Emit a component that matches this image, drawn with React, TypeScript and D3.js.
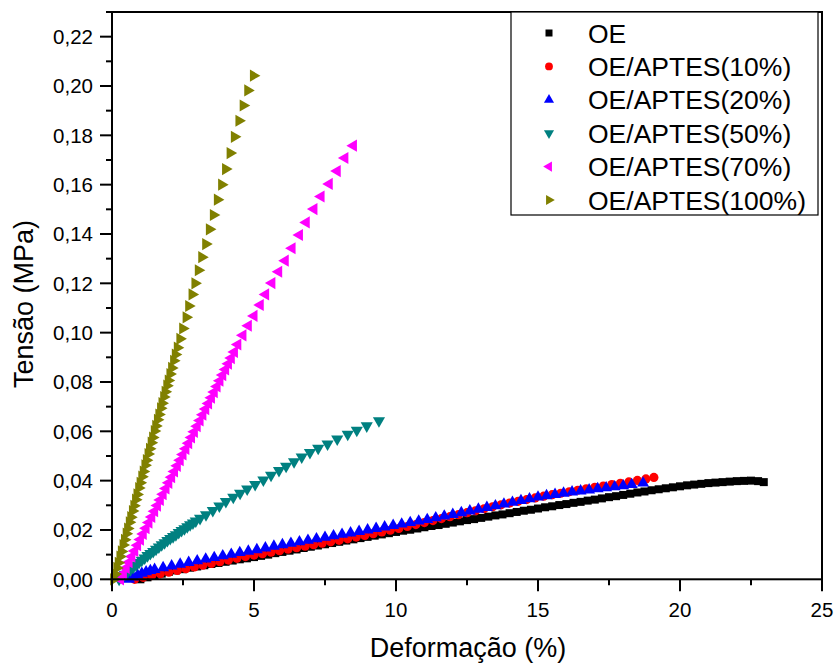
import React from "react";
import * as d3 from "d3";

const seriesNames = ["OE", "OE/APTES(10%)", "OE/APTES(20%)", "OE/APTES(50%)", "OE/APTES(70%)", "OE/APTES(100%)"];

const oe: [number, number][] = [
  [1.0, 0.0], [1.25, 0.0008], [1.5, 0.0016], [1.75, 0.0023], [2.0, 0.003], [2.25, 0.0036], [2.5, 0.0041], [2.75, 0.0047],
  [3.0, 0.0052], [3.25, 0.0057], [3.5, 0.0062], [3.75, 0.0066], [4.0, 0.0071], [4.25, 0.0076], [4.5, 0.0081], [4.75, 0.0085],
  [5.0, 0.009], [5.25, 0.0095], [5.5, 0.01], [5.75, 0.0106], [6.0, 0.0111], [6.25, 0.0116], [6.5, 0.0121], [6.75, 0.0127],
  [7.0, 0.0132], [7.25, 0.0137], [7.5, 0.0142], [7.75, 0.0147], [8.0, 0.0152], [8.25, 0.0157], [8.5, 0.0162], [8.75, 0.0167],
  [9.0, 0.0172], [9.25, 0.0177], [9.5, 0.0182], [9.75, 0.0187], [10.0, 0.0192], [10.25, 0.0197], [10.5, 0.0201], [10.75, 0.0206],
  [11.0, 0.0211], [11.25, 0.0216], [11.5, 0.022], [11.75, 0.0225], [12.0, 0.023], [12.25, 0.0235], [12.5, 0.024], [12.75, 0.0244],
  [13.0, 0.0249], [13.25, 0.0254], [13.5, 0.0259], [13.75, 0.0263], [14.0, 0.0268], [14.25, 0.0273], [14.5, 0.0278], [14.75, 0.0282],
  [15.0, 0.0287], [15.25, 0.0292], [15.5, 0.0296], [15.75, 0.0301], [16.0, 0.0305], [16.25, 0.031], [16.5, 0.0314], [16.75, 0.0319],
  [17.0, 0.0323], [17.25, 0.0328], [17.5, 0.0333], [17.75, 0.0337], [18.0, 0.0342], [18.25, 0.0347], [18.5, 0.0352], [18.75, 0.0356],
  [19.0, 0.0361], [19.25, 0.0365], [19.5, 0.0369], [19.75, 0.0373], [20.0, 0.0377], [20.25, 0.0381], [20.5, 0.0384], [20.75, 0.0387],
  [21.0, 0.039], [21.25, 0.0392], [21.5, 0.0394], [21.75, 0.0396], [22.0, 0.0398], [22.25, 0.0399], [22.5, 0.04], [22.75, 0.0398],
  [22.95, 0.0394],
];

const aptes10: [number, number][] = [
  [0.8, 0.0], [1.1, 0.0008], [1.4, 0.0015], [1.7, 0.0022], [2.0, 0.0029], [2.3, 0.0036], [2.6, 0.0043], [2.9, 0.005],
  [3.2, 0.0057], [3.5, 0.0064], [3.8, 0.0071], [4.1, 0.0078], [4.4, 0.0085], [4.7, 0.0092], [5.0, 0.0098], [5.3, 0.0104],
  [5.6, 0.011], [5.9, 0.0116], [6.2, 0.0122], [6.5, 0.0128], [6.8, 0.0134], [7.1, 0.014], [7.4, 0.0146], [7.7, 0.0152],
  [8.0, 0.0158], [8.3, 0.0164], [8.6, 0.0171], [8.9, 0.0178], [9.2, 0.0185], [9.5, 0.0192], [9.8, 0.0199], [10.1, 0.0206],
  [10.4, 0.0214], [10.7, 0.0222], [11.0, 0.023], [11.3, 0.0238], [11.6, 0.0246], [11.9, 0.0254], [12.2, 0.0262], [12.5, 0.027],
  [12.8, 0.0278], [13.1, 0.0286], [13.4, 0.0294], [13.7, 0.0302], [14.0, 0.0309], [14.3, 0.0316], [14.6, 0.0323], [14.9, 0.033],
  [15.2, 0.0337], [15.5, 0.0343], [15.8, 0.0349], [16.1, 0.0355], [16.4, 0.0361], [16.7, 0.0367], [17.0, 0.0373], [17.3, 0.0378],
  [17.6, 0.0384], [17.9, 0.0389], [18.2, 0.0395], [18.5, 0.0401], [18.8, 0.0407], [19.08, 0.0413],
];

const aptes20: [number, number][] = [
  [0.6, 0.0], [0.75, 0.0009], [0.9, 0.0017], [1.05, 0.0024], [1.2, 0.003], [1.35, 0.0035], [1.5, 0.004], [1.8, 0.0047], [2.1, 0.0054], [2.4, 0.0061], [2.7, 0.0068],
  [3.0, 0.0075], [3.3, 0.0082], [3.6, 0.0088], [3.9, 0.0095], [4.2, 0.0101], [4.5, 0.0108], [4.8, 0.0114], [5.1, 0.012],
  [5.4, 0.0127], [5.7, 0.0134], [6.0, 0.014], [6.3, 0.0146], [6.6, 0.0152], [6.9, 0.0158], [7.2, 0.0164], [7.5, 0.017],
  [7.8, 0.0176], [8.1, 0.0182], [8.4, 0.0188], [8.7, 0.0194], [9.0, 0.02], [9.3, 0.0206], [9.6, 0.0212], [9.9, 0.0218],
  [10.2, 0.0224], [10.5, 0.023], [10.8, 0.0236], [11.1, 0.0242], [11.4, 0.0249], [11.7, 0.0256], [12.0, 0.0263], [12.3, 0.027],
  [12.6, 0.0277], [12.9, 0.0284], [13.2, 0.0291], [13.5, 0.0298], [13.8, 0.0305], [14.1, 0.0312], [14.4, 0.0319], [14.7, 0.0326],
  [15.0, 0.0333], [15.3, 0.0339], [15.6, 0.0344], [15.9, 0.0349], [16.2, 0.0354], [16.5, 0.0358], [16.8, 0.0362], [17.1, 0.0367],
  [17.4, 0.0371], [17.7, 0.0375], [18.0, 0.0379], [18.3, 0.0384], [18.7, 0.039],
];

const aptes50: [number, number][] = [
  [0.25, 0.0], [0.35, 0.001], [0.45, 0.002], [0.55, 0.003], [0.65, 0.0039], [0.75, 0.0049], [0.85, 0.0058], [0.95, 0.0068],
  [1.05, 0.0077], [1.15, 0.0086], [1.25, 0.0096], [1.35, 0.0105], [1.45, 0.0113], [1.55, 0.0122], [1.65, 0.0131], [1.75, 0.014],
  [1.85, 0.0148], [1.95, 0.0157], [2.05, 0.0165], [2.15, 0.0173], [2.25, 0.0181], [2.35, 0.019], [2.45, 0.0198], [2.55, 0.0205],
  [2.65, 0.0213], [2.75, 0.0221], [2.85, 0.0228], [2.95, 0.0236], [3.1, 0.0247], [3.31, 0.0262], [3.55, 0.0279], [3.78, 0.0297],
  [4.01, 0.0315], [4.27, 0.0333], [4.51, 0.0349], [4.76, 0.0366], [5.04, 0.0384], [5.33, 0.0403], [5.6, 0.0422], [5.88, 0.0441],
  [6.13, 0.0458], [6.41, 0.0477], [6.68, 0.0496], [6.97, 0.0514], [7.26, 0.0531], [7.59, 0.0549], [7.93, 0.0569], [8.3, 0.0588],
  [8.62, 0.0604], [8.97, 0.0622], [9.4, 0.0643],
];

const aptes70: [number, number][] = [
  [0.3, 0.0], [0.4, 0.0023], [0.5, 0.0046], [0.6, 0.0069], [0.7, 0.0092], [0.8, 0.0115], [0.9, 0.0138], [1.0, 0.0161],
  [1.1, 0.0184], [1.2, 0.0207], [1.3, 0.023], [1.4, 0.0253], [1.5, 0.0276], [1.6, 0.0299], [1.7, 0.0322], [1.8, 0.0345],
  [1.9, 0.0368], [2.0, 0.0391], [2.1, 0.0414], [2.2, 0.0437], [2.3, 0.046], [2.4, 0.0483], [2.5, 0.0506], [2.6, 0.0529],
  [2.7, 0.0552], [2.8, 0.0575], [2.9, 0.0598], [3.0, 0.0621], [3.1, 0.0644], [3.2, 0.0667], [3.3, 0.069], [3.4, 0.0713],
  [3.5, 0.0736], [3.6, 0.0759], [3.7, 0.0782], [3.8, 0.0805], [3.9, 0.0828], [4.0, 0.0851], [4.1, 0.0874], [4.2, 0.0897],
  [4.31, 0.0922], [4.43, 0.0952], [4.61, 0.0989], [4.8, 0.1028], [5.0, 0.1068], [5.22, 0.1112], [5.41, 0.1155], [5.63, 0.1201],
  [5.87, 0.1247], [6.1, 0.1292], [6.34, 0.1342], [6.6, 0.1396], [6.84, 0.1447], [7.11, 0.1501], [7.36, 0.1552], [7.65, 0.1603],
  [7.93, 0.1655], [8.2, 0.1708], [8.5, 0.1758],
];

const aptes100: [number, number][] = [
  [0.06, 0.0], [0.11, 0.0021], [0.17, 0.0046], [0.22, 0.0067], [0.28, 0.0092], [0.33, 0.0113], [0.39, 0.0139], [0.44, 0.016],
  [0.5, 0.0185], [0.55, 0.0206], [0.61, 0.0231], [0.66, 0.0252], [0.72, 0.0277], [0.77, 0.0298], [0.83, 0.0323], [0.88, 0.0344],
  [0.94, 0.037], [0.99, 0.0391], [1.05, 0.0416], [1.1, 0.0437], [1.16, 0.0462], [1.21, 0.0483], [1.27, 0.0508], [1.32, 0.0529],
  [1.38, 0.0554], [1.43, 0.0575], [1.49, 0.0601], [1.54, 0.0622], [1.6, 0.0647], [1.65, 0.0668], [1.71, 0.0693], [1.76, 0.0714],
  [1.82, 0.0739], [1.87, 0.076], [1.93, 0.0785], [1.98, 0.0806], [2.04, 0.0832], [2.1, 0.0857], [2.17, 0.0886], [2.23, 0.0911],
  [2.3, 0.0939], [2.39, 0.0975], [2.49, 0.1017], [2.61, 0.1062], [2.7, 0.1108], [2.82, 0.1155], [2.92, 0.12], [3.04, 0.1253],
  [3.16, 0.1306], [3.3, 0.1359], [3.43, 0.1419], [3.57, 0.1477], [3.71, 0.1539], [3.86, 0.16], [4.0, 0.1663], [4.16, 0.1728],
  [4.31, 0.1794], [4.47, 0.1859], [4.62, 0.1921], [4.78, 0.1982], [4.98, 0.2042],
];

const xTicks = [0, 5, 10, 15, 20, 25];
const yTicks = [0, 0.02, 0.04, 0.06, 0.08, 0.1, 0.12, 0.14, 0.16, 0.18, 0.2, 0.22];
const xTitle = "Deformação (%)";
const yTitle = "Tensão (MPa)";

const colors = ["#000000", "#FF0000", "#0000FF", "#008080", "#FF00FF", "#808000"];

const W = 837, H = 664;
const left = 112, right = 822, top = 12, bottom = 579.3;
const FONT = "'Liberation Sans', Arial, Helvetica, sans-serif";

export default function App() {
  const x = d3.scaleLinear().domain([0, 25]).range([left, right]);
  const y = d3.scaleLinear().domain([0, 0.23]).range([bottom, top]);

  const data = [oe, aptes10, aptes20, aptes50, aptes70, aptes100];
  const plotSym = [
    { type: d3.symbolSquare, size: 64, rot: 0 },
    { type: d3.symbolCircle, size: 66, rot: 0 },
    { type: d3.symbolTriangle, size: 62, rot: 0 },
    { type: d3.symbolTriangle, size: 64, rot: 180 },
    { type: d3.symbolTriangle, size: 64, rot: -90 },
    { type: d3.symbolTriangle, size: 64, rot: 90 },
  ];
  const legSym = [
    { type: d3.symbolSquare, size: 49, rot: 0 },
    { type: d3.symbolCircle, size: 48, rot: 0 },
    { type: d3.symbolTriangle, size: 44, rot: 0 },
    { type: d3.symbolTriangle, size: 44, rot: 180 },
    { type: d3.symbolTriangle, size: 44, rot: -90 },
    { type: d3.symbolTriangle, size: 44, rot: 90 },
  ];

  const xMinor = [2.5, 7.5, 12.5, 17.5, 22.5];
  const yMinor = [0.01, 0.03, 0.05, 0.07, 0.09, 0.11, 0.13, 0.15, 0.17, 0.19, 0.21, 0.23];
  const fmtY = (v: number) => v.toFixed(2).replace(".", ",");

  return (
    <svg width={W} height={H} style={{ position: "absolute", left: 0, top: 0, background: "#fff" }} fontFamily={FONT}>
      <rect x={0} y={0} width={W} height={H} fill="#fff" />
      {data.map((pts, i) => {
        const p = d3.symbol().type(plotSym[i].type).size(plotSym[i].size)()!;
        return (
          <g key={i} fill={colors[i]}>
            {pts.map((d, j) => (
              <path key={j} d={p} transform={`translate(${x(d[0])},${y(d[1])}) rotate(${plotSym[i].rot})`} />
            ))}
          </g>
        );
      })}
      <rect x={left} y={top} width={right - left} height={bottom - top} fill="none" stroke="#000" strokeWidth={2} />
      {xTicks.map((v) => (
        <g key={"xt" + v}>
          <line x1={x(v)} x2={x(v)} y1={bottom} y2={bottom + 12} stroke="#000" strokeWidth={2} />
          <text x={x(v)} y={bottom + 38} textAnchor="middle" fontSize={20.5} fill="#000">{v}</text>
        </g>
      ))}
      {xMinor.map((v) => (
        <line key={"xm" + v} x1={x(v)} x2={x(v)} y1={bottom} y2={bottom + 6} stroke="#000" strokeWidth={2} />
      ))}
      {yTicks.map((v) => (
        <g key={"yt" + v}>
          <line x1={left - 12} x2={left} y1={y(v)} y2={y(v)} stroke="#000" strokeWidth={2} />
          <text x={left - 19} y={y(v) + 7.5} textAnchor="end" fontSize={20.5} fill="#000">{fmtY(v)}</text>
        </g>
      ))}
      {yMinor.map((v) => (
        <line key={"ym" + v} x1={left - 6} x2={left} y1={y(v)} y2={y(v)} stroke="#000" strokeWidth={2} />
      ))}
      <text x={468} y={657} textAnchor="middle" fontSize={27} fill="#000">{xTitle}</text>
      <text transform={`translate(33,304) rotate(-90)`} textAnchor="middle" fontSize={27} fill="#000">{yTitle}</text>
      <rect x={511} y={top} width={307} height={203} fill="#fff" stroke="#000" strokeWidth={1.2} />
      {seriesNames.map((name, i) => {
        const cy = 33 + i * 33.4;
        const p = d3.symbol().type(legSym[i].type).size(legSym[i].size)()!;
        return (
          <g key={name}>
            <path d={p} fill={colors[i]} transform={`translate(549,${cy}) rotate(${legSym[i].rot})`} />
            <text x={588} y={cy + 9.5} fontSize={26.5} fill="#000">{name}</text>
          </g>
        );
      })}
    </svg>
  );
}
